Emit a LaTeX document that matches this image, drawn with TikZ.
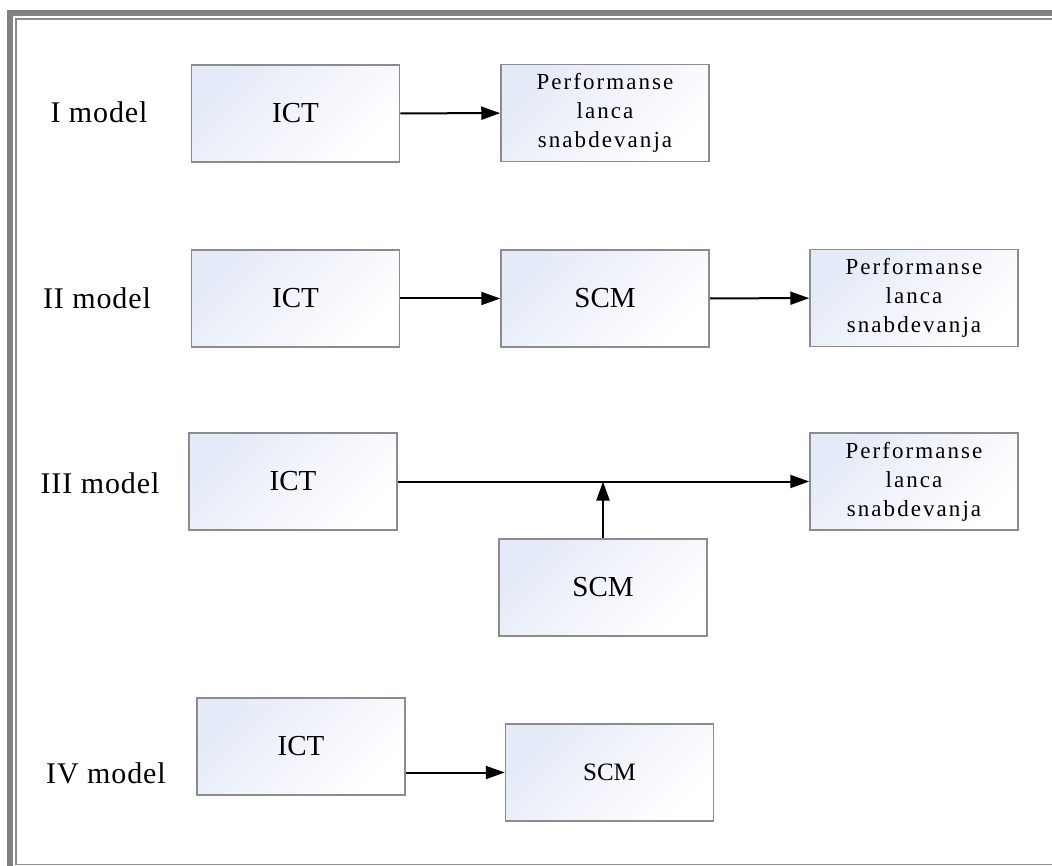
\documentclass[tikz,border=0pt]{standalone}
\usepackage{fontspec}
\setmainfont{Liberation Serif}
\newfontfamily\spacedfont[LetterSpace=9]{Liberation Serif}
\newfontfamily\labelfont[LetterSpace=3]{Liberation Serif}
\usetikzlibrary{arrows.meta}
\definecolor{boxblue}{RGB}{228,234,247}
\definecolor{framegray}{RGB}{128,128,128}
\definecolor{edgegray}{RGB}{140,140,140}
\tikzset{
  blok/.style={draw=edgegray, line width=1.5pt, minimum width=208pt, minimum height=97pt, inner sep=0pt,
    left color=boxblue, middle color=boxblue!25!white, right color=white, shading angle=45,
    font=\fontsize{29}{34}\selectfont},
  perfblok/.style={blok, align=center, font=\spacedfont\fontsize{23}{29}\selectfont},
  modlabel/.style={font=\labelfont\fontsize{30}{36}\selectfont},
  veza/.style={line width=2pt, -{Triangle[length=19pt,width=13pt]}}
}
\begin{document}
\begin{tikzpicture}[x=1pt,y=-1pt]
    \useasboundingbox (0,0) rectangle (1052,866);
    \clip (0,0) rectangle (1052,866);
    % okvir
    \draw[framegray, line width=6pt] (10,13) rectangle (1080,900);
    \draw[edgegray, line width=1.6pt] (15.8,19) rectangle (1080,864.5);

    % I model
    \node[modlabel] (lblA) at (99,112) {I model};
    \node[blok] (ictA) at (295.5,113.5) {ICT};
    \node[perfblok] (perfA) at (605,113) {Performanse\\lanca\\snabdevanja};
    \draw[veza] (ictA) -- (perfA);

    % II model
    \node[modlabel] (lblB) at (97,298) {II model};
    \node[blok] (ictB) at (295.5,298.5) {ICT};
    \node[blok] (scmB) at (605,298.5) {SCM};
    \node[perfblok] (perfB) at (914,298) {Performanse\\lanca\\snabdevanja};
    \draw[veza] (ictB) -- (scmB);
    \draw[veza] (scmB) -- (perfB);

    % III model
    \node[modlabel] (lblC) at (100,483) {III model};
    \node[blok] (ictC) at (293,481.5) {ICT};
    \node[perfblok] (perfC) at (914,481.5) {Performanse\\lanca\\snabdevanja};
    \node[blok] (scmC) at (603,587.5) {SCM};
    \draw[veza] (ictC) -- (perfC);
    \draw[veza] (scmC) -- (scmC |- ictC.east);

    % IV model
    \node[modlabel] (lblD) at (106,773) {IV model};
    \node[blok] (ictD) at (301,746.5) {ICT};
    \node[blok, font=\fontsize{25}{30}\selectfont] (scmD) at (609.5,772.5) {SCM};
    \draw[veza] (ictD.east |- scmD.west) -- (scmD.west);
\end{tikzpicture}
\end{document}
